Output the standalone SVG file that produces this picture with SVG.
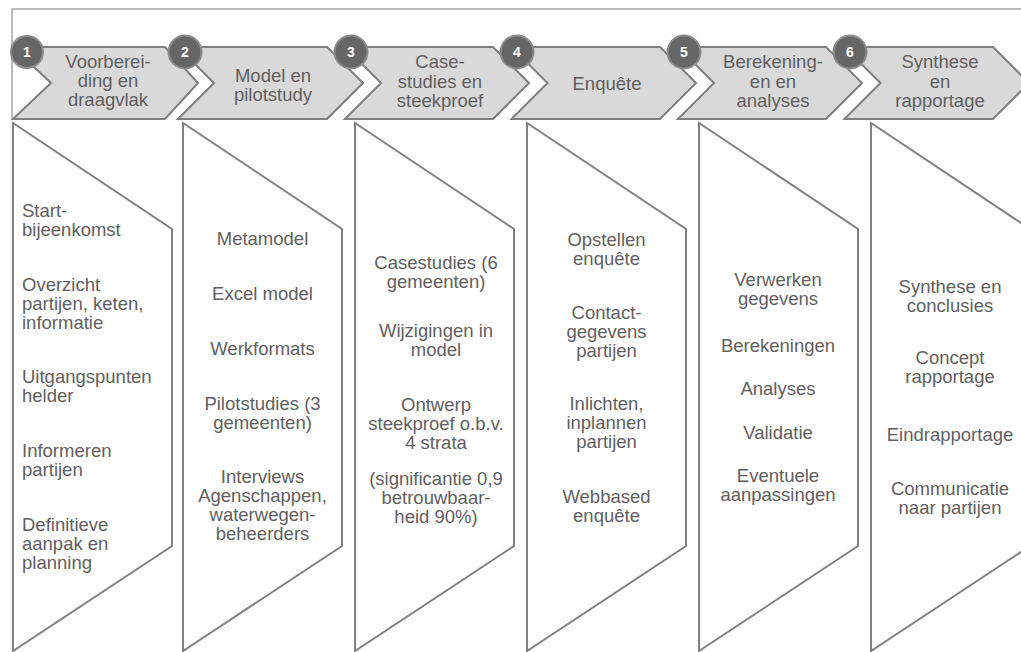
<svg xmlns="http://www.w3.org/2000/svg" width="1021" height="652" viewBox="0 0 1021 652">
<style>
.frame{fill:none;stroke:#a6a6a6;stroke-width:1.5}
.chev{fill:#d9d9d9;stroke:#7f7f7f;stroke-width:2;stroke-linejoin:miter}
.body{fill:#ffffff;stroke:#808080;stroke-width:2;stroke-linejoin:miter}
.badge{fill:#666666;stroke:#8c8c8c;stroke-width:2}
.num{font-family:"Liberation Sans Narrow","Liberation Sans",Arial,sans-serif;font-weight:bold;font-size:14px;fill:#ffffff;text-anchor:middle}
.hd{font-family:"Liberation Sans",Arial,sans-serif;font-size:18.5px;fill:#606060;text-anchor:middle}
.tx{font-family:"Liberation Sans",Arial,sans-serif;font-size:18.5px;fill:#606060;text-anchor:middle}
.txl{font-family:"Liberation Sans",Arial,sans-serif;font-size:18.5px;fill:#606060;text-anchor:start}
</style>
<rect width="1021" height="652" fill="#ffffff"/>
<path class="frame" d="M12,119 L12,9 L1021,9"/>

<g id="step1">
<polygon class="chev" points="13,47 165,47 198,83 165,119 13,119 51,83"/>
<circle class="badge" cx="27" cy="52" r="16"/>
<text class="num" x="27" y="57">1</text>
<text class="hd" x="108" y="68">Voorberei-</text>
<text class="hd" x="108" y="87">ding en</text>
<text class="hd" x="108" y="106">draagvlak</text>
<polygon class="body" points="13,123 172,229 172,546 13,651"/>
<text class="txl" x="22" y="217">Start-</text>
<text class="txl" x="22" y="236">bijeenkomst</text>
<text class="txl" x="22" y="291">Overzicht</text>
<text class="txl" x="22" y="310">partijen, keten,</text>
<text class="txl" x="22" y="329">informatie</text>
<text class="txl" x="22" y="383">Uitgangspunten</text>
<text class="txl" x="22" y="402">helder</text>
<text class="txl" x="22" y="457">Informeren</text>
<text class="txl" x="22" y="476">partijen</text>
<text class="txl" x="22" y="531">Definitieve</text>
<text class="txl" x="22" y="550">aanpak en</text>
<text class="txl" x="22" y="569">planning</text>
</g>

<g id="step2">
<polygon class="chev" points="178,47 327,47 363,83 327,119 178,119 214,83"/>
<circle class="badge" cx="185" cy="52" r="16.5"/>
<text class="num" x="185" y="57">2</text>
<text class="hd" x="273" y="82">Model en</text>
<text class="hd" x="273" y="101">pilotstudy</text>
<polygon class="body" points="183,123 342,229 342,546 183,651"/>
<text class="tx" x="262.5" y="245">Metamodel</text>
<text class="tx" x="262.5" y="300">Excel model</text>
<text class="tx" x="262.5" y="355">Werkformats</text>
<text class="tx" x="262.5" y="410">Pilotstudies (3</text>
<text class="tx" x="262.5" y="429">gemeenten)</text>
<text class="tx" x="262.5" y="483">Interviews</text>
<text class="tx" x="262.5" y="502">Agenschappen,</text>
<text class="tx" x="262.5" y="521">waterwegen-</text>
<text class="tx" x="262.5" y="540">beheerders</text>
</g>

<g id="step3">
<polygon class="chev" points="345,47 493,47 529,83 493,119 345,119 381,83"/>
<circle class="badge" cx="351" cy="52" r="16.5"/>
<text class="num" x="351" y="57">3</text>
<text class="hd" x="440" y="68">Case-</text>
<text class="hd" x="440" y="88">studies en</text>
<text class="hd" x="440" y="107">steekproef</text>
<polygon class="body" points="355,123 514,229 514,546 355,651"/>
<text class="tx" x="436" y="269">Casestudies (6</text>
<text class="tx" x="436" y="288">gemeenten)</text>
<text class="tx" x="436" y="337">Wijzigingen in</text>
<text class="tx" x="436" y="356">model</text>
<text class="tx" x="436" y="411">Ontwerp</text>
<text class="tx" x="436" y="430">steekproef o.b.v.</text>
<text class="tx" x="436" y="449">4 strata</text>
<text class="tx" x="436" y="485">(significantie 0,9</text>
<text class="tx" x="436" y="504">betrouwbaar-</text>
<text class="tx" x="436" y="523">heid 90%)</text>
</g>

<g id="step4">
<polygon class="chev" points="511.5,47 660,47 696,83 660,119 511.5,119 547.5,83"/>
<circle class="badge" cx="517" cy="52" r="16.5"/>
<text class="num" x="517" y="57">4</text>
<text class="hd" x="607" y="90">Enquête</text>
<polygon class="body" points="527,123 686,229 686,546 527,651"/>
<text class="tx" x="606.5" y="246">Opstellen</text>
<text class="tx" x="606.5" y="265">enquête</text>
<text class="tx" x="606.5" y="319">Contact-</text>
<text class="tx" x="606.5" y="338">gegevens</text>
<text class="tx" x="606.5" y="357">partijen</text>
<text class="tx" x="606.5" y="410">Inlichten,</text>
<text class="tx" x="606.5" y="429">inplannen</text>
<text class="tx" x="606.5" y="448">partijen</text>
<text class="tx" x="606.5" y="503">Webbased</text>
<text class="tx" x="606.5" y="522">enquête</text>
</g>

<g id="step5">
<polygon class="chev" points="678,47 826,47 862,83 826,119 678,119 714,83"/>
<circle class="badge" cx="684" cy="52" r="16.5"/>
<text class="num" x="684" y="57">5</text>
<text class="hd" x="773" y="68">Berekening-</text>
<text class="hd" x="773" y="88">en en</text>
<text class="hd" x="773" y="107">analyses</text>
<polygon class="body" points="699,123 858,229 858,546 699,651"/>
<text class="tx" x="778" y="286">Verwerken</text>
<text class="tx" x="778" y="305">gegevens</text>
<text class="tx" x="778" y="352">Berekeningen</text>
<text class="tx" x="778" y="395">Analyses</text>
<text class="tx" x="778" y="439">Validatie</text>
<text class="tx" x="778" y="482">Eventuele</text>
<text class="tx" x="778" y="501">aanpassingen</text>
</g>

<g id="step6">
<polygon class="chev" points="844.5,47 993,47 1029,83 993,119 844.5,119 880.5,83"/>
<circle class="badge" cx="850" cy="52" r="16.5"/>
<text class="num" x="850" y="57">6</text>
<text class="hd" x="940" y="68">Synthese</text>
<text class="hd" x="940" y="88">en</text>
<text class="hd" x="940" y="107">rapportage</text>
<polygon class="body" points="871,123 1030,229 1030,546 871,651"/>
<text class="tx" x="950" y="293">Synthese en</text>
<text class="tx" x="950" y="312">conclusies</text>
<text class="tx" x="950" y="364">Concept</text>
<text class="tx" x="950" y="383">rapportage</text>
<text class="tx" x="950" y="441">Eindrapportage</text>
<text class="tx" x="950" y="495">Communicatie</text>
<text class="tx" x="950" y="514">naar partijen</text>
</g>
</svg>
